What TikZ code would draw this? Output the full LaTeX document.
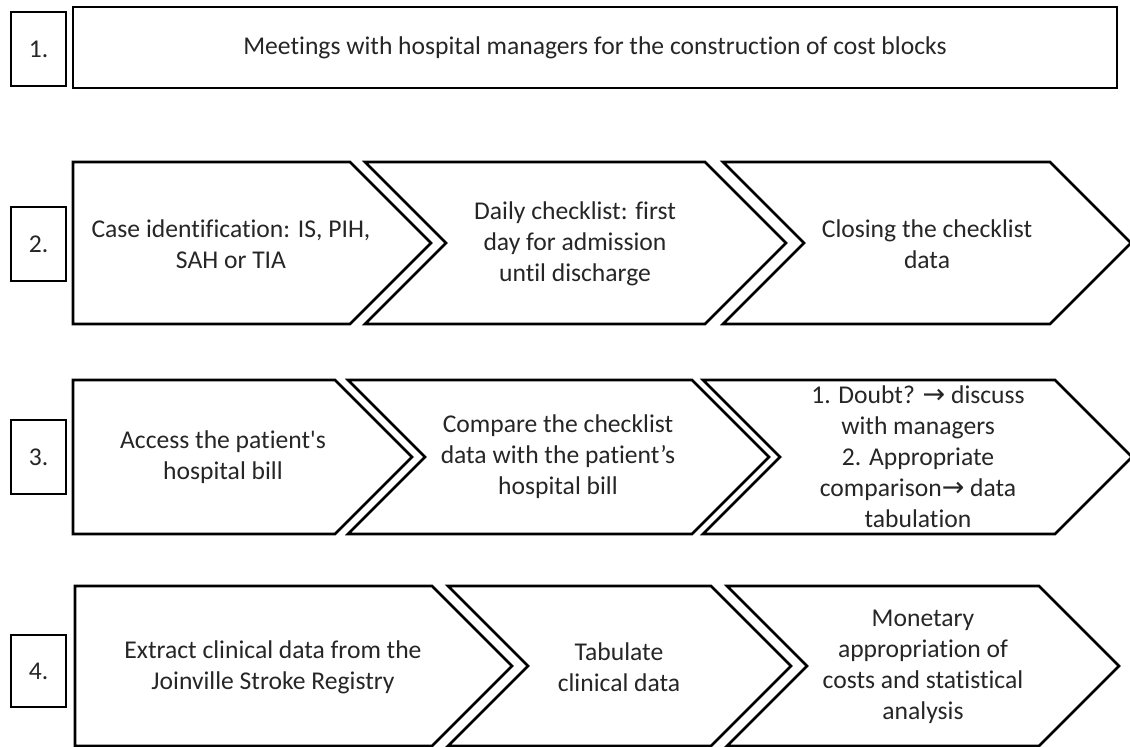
\documentclass[tikz,border=0pt]{standalone}
\usepackage{fontspec}
\setmainfont{Carlito}[Ligatures={NoCommon,NoContextual}, Contextuals=NoAlternate]
\newfontfamily\arrowfont{DejaVu Sans}
\usepackage{xcolor}
\usetikzlibrary{positioning}
\definecolor{stepline}{RGB}{0,0,0}
\definecolor{steptext}{RGB}{38,38,38}
\newcommand{\ar}{{\arrowfont\fontsize{27}{31}\selectfont →}}

\begin{document}
\begin{tikzpicture}[
  x=1pt, y=-1pt,
  numbox/.style={draw=stepline, line width=2.6pt, minimum width=55pt,
                 minimum height=74pt, inner sep=0pt, text=steptext,
                 font=\fontsize{25.6}{31}\selectfont},
  banner/.style={draw=stepline, line width=2.6pt, minimum width=1044pt,
                 minimum height=81pt, inner sep=0pt, text=steptext,
                 font=\fontsize{25.6}{31}\selectfont},
  outline/.style={draw=stepline, line width=2.6pt, fill=white},
  steplabel/.style={align=center, inner sep=0pt, text=steptext,
                    font=\fontsize{25.6}{31}\selectfont},
]
\useasboundingbox[fill=white] (0,0) rectangle (1130,747);

%% Step numbers
\node[numbox] (n1) at (38.5,49) {1.};
\node[numbox] (n2) at (38.5,244) {2.};
\node[numbox] (n3) at (38.5,457) {3.};
\node[numbox, minimum height=72pt] (n4) at (38.5,671) {4.};

%% Step 1
\node[banner] (meet) at (595,47.5) {Meetings with hospital managers for the construction of cost blocks};

%% Chevron outlines: left / top corner / top / bottom / notched
\foreach \xl/\xr/\yt/\yb/\nt in {73/350/162/324/0, 365/705/162/324/1, 723/1050/162/324/1,
                                 73/335/380/534/0, 348/692/380/534/1, 703/1055/380/534/1,
                                 75/432/586/746/0, 448/711/586/746/1, 727/1039/586/746/1}
  \draw[outline] (\xl,\yt) -- (\xr,\yt) -- ({\xr+(\yb-\yt)/2},{(\yt+\yb)/2})
    -- (\xr,\yb) -- (\xl,\yb) -- ({\xl+\nt*(\yb-\yt)/2},{(\yt+\yb)/2}) -- cycle;

%% Step 2
\node[steplabel] (case) at (231,244) {Case identification: IS, PIH,\\SAH or TIA};
\node[steplabel] (daily) at (575,244) {Daily checklist: first\\day for admission\\until discharge};
\node[steplabel] (close) at (927,244) {Closing the checklist\\data};

%% Step 3
\node[steplabel] (bill) at (223,457) {Access the patient\textquotesingle s\\hospital bill};
\node[steplabel] (compare) at (558,457) {Compare the checklist\\data with the patient’s\\hospital bill};
\node[steplabel] (doubt) at (918,457) {1. Doubt? \ar{} discuss\\with managers\\2. Appropriate\\comparison\ar{} data\\tabulation};

%% Step 4
\node[steplabel] (extract) at (273,667) {Extract clinical data from the\\Joinville Stroke Registry};
\node[steplabel] (tabulate) at (619,667) {Tabulate\\clinical data};
\node[steplabel] (money) at (923,667) {Monetary\\appropriation of\\costs and statistical\\analysis};

\end{tikzpicture}
\end{document}
